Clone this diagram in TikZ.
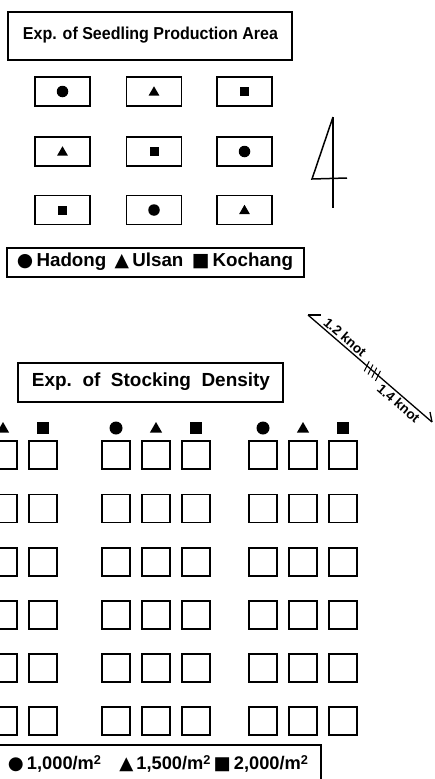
\documentclass[tikz,border=0pt]{standalone}
\usepackage{fontspec}
\setmainfont{Liberation Sans}
\newfontfamily\symf{DejaVu Sans}
\usetikzlibrary{shapes.geometric,calc}
\newcommand{\sqm}{m\raisebox{0.55ex}{\scriptsize 2}}
\tikzset{
  frame/.style={draw, line width=1.6pt, inner sep=0pt},
  plot/.style={frame, minimum width=55pt, minimum height=29pt},
  tank/.style={frame, minimum width=28pt, minimum height=28pt},
  dot/.style={circle, fill, inner sep=0pt, minimum size=#1},
  dot/.default=11.5pt,
  tri/.style={regular polygon, regular polygon sides=3, fill, inner sep=0pt, minimum size=#1},
  tri/.default=12.5pt,
  sq/.style={fill, inner sep=0pt, minimum size=#1},
  sq/.default=9pt,
  ink/.style={line width=1.5pt},
  lbl/.style={inner sep=0pt, font=\bfseries},
  knotlbl/.style={inner sep=0pt, font=\bfseries\fontsize{13.5}{14}\selectfont}
}
\begin{document}
\begin{tikzpicture}[x=1pt,y=-1pt]
\useasboundingbox (0,0) rectangle (434,779);
\clip (0,0) rectangle (434,779);

% ---- seedling production area ----
\node[frame, minimum width=284pt, minimum height=48pt] (t1) at (150,36) {};
\node[lbl] (t1txt) at (150.5,35.5) {\resizebox{255pt}{12.5pt}{Exp. of Seedling Production Area}};

\foreach \r/\y in {1/91.5,2/151.5,3/210}
  \foreach \c/\x in {1/62.5,2/154,3/244.5}
    \node[plot] (p\r\c) at (\x,\y) {};

\node[dot] (sym11) at (p11) {};
\node[tri, yshift=-1pt] (sym12) at (p12) {};
\node[sq] (sym13) at (p13) {};
\node[tri, yshift=-1pt] (sym21) at (p21) {};
\node[sq] (sym22) at (p22) {};
\node[dot] (sym23) at (p23) {};
\node[sq] (sym31) at (p31) {};
\node[dot] (sym32) at (p32) {};
\node[tri, yshift=-1pt] (sym33) at (p33) {};

\node[frame, minimum width=297pt, minimum height=29pt] (lg1) at (155.5,262.5) {};
\node[lbl] (lg1txt) at (155,262) {\resizebox{276pt}{!}{{\symf ●}\,Hadong\, {\symf ▲}\,Ulsan\, {\symf ■}\,Kochang}};

% ---- north sign ----
\coordinate (n1) at (333,117);
\coordinate (n2) at (333,208);
\coordinate (n3) at (312,179);
\coordinate (n4) at (347,178);
\draw[ink] (n1) -- (n2);
\draw[ink, line join=miter] (n1) -- (n3) -- (n4);

% ---- current ----
\coordinate (k1) at (308,315);
\coordinate (k2) at (432,422);
\draw[line width=1.3pt] (k1) -- (k2)
  node[pos=0.26, sloped, above=2pt, knotlbl] (kn1) {1.2 knot}
  node[pos=0.77, sloped, below=2pt, knotlbl] (kn2) {1.4 knot};
\draw[line width=1.3pt] (k1) -- ++(13,0);
\draw[line width=1.3pt] (k2) -- ++(-2,-10);
\foreach \p in {0.47,0.50,0.53,0.56}
  \draw[line width=1pt] ($(k1)!\p!(k2)+(-2,6)$) -- ++(5,-10);

% ---- stocking density ----
\node[frame, minimum width=265pt, minimum height=39pt] (t2) at (150.5,382.5) {};
\node[lbl] (t2txt) at (151,382) {\resizebox{238pt}{!}{Exp.\ \ of\ \ Stocking\ \ Density}};

\foreach \g/\gx in {1/3,2/156,3/303} {
  \foreach \c/\dx in {1/-40,2/0,3/40} {
    \foreach \r/\y in {1/455,2/508.5,3/562,4/615,5/668,6/721}
      \node[tank] (b\g\c\r) at (\gx+\dx,\y) {};
  }
  \node[dot=13pt] (h\g1) at (\gx-40,428) {};
  \node[tri=14pt, yshift=-1pt] (h\g2) at (\gx,428) {};
  \node[sq=12pt] (h\g3) at (\gx+40,428) {};
}

\node[frame, minimum width=334pt, minimum height=46pt] (lg2) at (154,768) {};
\node[lbl] (lg2txt) at (158,764) {\resizebox{300pt}{!}{{\symf ●}\,1,000/\sqm\quad{\symf ▲}\,1,500/\sqm\,{\symf ■}\,2,000/\sqm}};
\end{tikzpicture}
\end{document}
